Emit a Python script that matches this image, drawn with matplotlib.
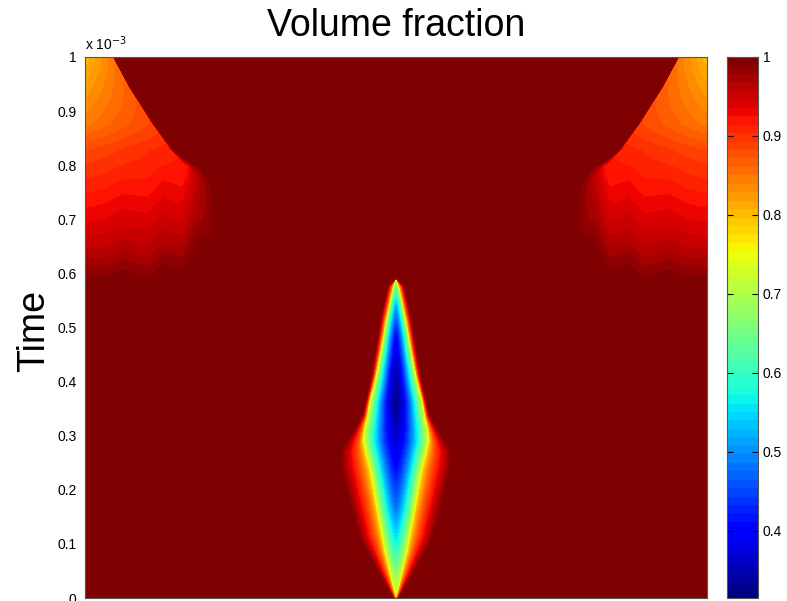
import numpy as np
import matplotlib
matplotlib.use("Agg")
import matplotlib.pyplot as plt

plt.rcParams['font.family'] = ['Liberation Sans', 'DejaVu Sans']

# grid: x across the domain (0..1), t in units of 1e-3 s
nx, nt = 622, 541
x = np.linspace(0.0, 1.0, nx)
t = np.linspace(0.0, 1.0, nt)
X, T = np.meshgrid(x, t)

# --- central bubble ---
dia_t = [0.0, 0.02, 0.083, 0.175, 0.237, 0.265, 0.29, 0.31, 0.336, 0.367, 0.403, 0.45, 0.514, 0.575, 0.59]
dia_hw_px = [0, 3, 11, 20, 26, 30, 33, 32, 29, 26, 21, 16, 10, 3, 0]   # half width of the 0.75 contour
halo_t = [0.0, 0.05, 0.113, 0.175, 0.24, 0.27, 0.305, 0.336, 0.367, 0.42, 0.514, 0.575, 0.59]
halo_px = [3, 19, 38, 47, 56, 56, 44, 34, 30, 24, 16, 9, 0]             # where the field is back to 1
core_t = [0.0, 0.05, 0.11, 0.17, 0.24, 0.29, 0.36, 0.42, 0.48, 0.54, 0.575, 0.59]
core_min = [0.74, 0.66, 0.56, 0.48, 0.41, 0.37, 0.325, 0.35, 0.40, 0.52, 0.65, 0.75]
edge_val = 0.75

# --- corner plumes (left one; the right one is its mirror) ---
pl_t = [0.575, 0.6, 0.643, 0.68, 0.71, 0.76, 0.797, 0.828, 0.876, 0.945, 1.0]
pl_w = [0.19, 0.205, 0.215, 0.232, 0.23, 0.218, 0.176, 0.142, 0.11, 0.071, 0.045]  # outer edge
pl_def = [0.0, 0.014, 0.042, 0.058, 0.07, 0.09, 0.105, 0.118, 0.153, 0.178, 0.2]  # 1 - value at x = 0
pl_soft = [0.45, 0.45, 0.42, 0.4, 0.38, 0.32, 0.08, 0.04, 0.025, 0.02, 0.02]
wave_x = [0.0, 0.03, 0.061, 0.085, 0.101, 0.126, 0.156, 0.182, 0.206, 0.24]
wave_dt = [0.0, 0.0, 0.012, 0.002, -0.004, 0.022, -0.004, 0.024, -0.004, 0.0]
wave_t = [0.0, 0.76, 0.82, 1.0]
wave_amp = [1.0, 1.0, 0.0, 0.0]

px = 1.0 / 622.0
field = np.ones_like(X)

# bubble
r = np.abs(X - 0.5)
hw = np.interp(T, dia_t, dia_hw_px) * px
ho = np.interp(T, halo_t, halo_px) * px
cmin = np.interp(T, core_t, core_min)
inside = T <= dia_t[-1]
s = r / np.maximum(hw, 1e-9)
v_core = cmin + (edge_val - cmin) * np.clip(s, 0, 1) ** 1.5
u = np.clip((r - hw) / np.maximum(ho - hw, 1e-9), 0, 1)
v_halo = edge_val + (1 - edge_val) * u ** 0.6
bubble = np.where(r < hw, v_core, v_halo)
field = np.where(inside, np.minimum(field, bubble), field)

# plumes
amp = np.interp(T, wave_t, wave_amp)
for xx in (X, 1.0 - X):
    te = T - amp * np.interp(xx, wave_x, wave_dt)
    w = np.interp(te, pl_t, pl_w)
    d0 = np.interp(te, pl_t, pl_def, left=0.0)
    e = np.interp(te, pl_t, pl_soft)
    sp = xx / w
    g = np.clip((1 - sp) / e, 0, 1)
    g = g * g * (3 - 2 * g)
    field = field - d0 * (1 - 0.25 * np.clip(sp, 0, 1)) * g

fig = plt.figure(figsize=(7.87, 6.01), dpi=100)
ax = fig.add_axes([85 / 787, 3 / 601, 622 / 787, 541 / 601])
cax = fig.add_axes([727 / 787, 3 / 601, 31 / 787, 541 / 601])

im = ax.imshow(field, origin='lower', extent=[0, 1, 0, 1e-3], aspect='auto',
               cmap=plt.get_cmap('jet', 64), vmin=0.315, vmax=1.0,
               interpolation='nearest')

yt = np.arange(0, 11) * 1e-4
ax.set_yticks(yt)
ax.set_yticklabels(['%g' % round(v * 1e3, 1) for v in yt], fontsize=10)
ax.set_ylim(0, 1e-3)
ax.set_xlim(0, 1)
ax.set_xticks([])
ax.tick_params(axis='y', length=0, pad=6)
for sp_ in ax.spines.values():
    sp_.set_color('#555555')
    sp_.set_linewidth(0.8)
ax.text(0.0, 1.008, r'x 10$^{-3}$', transform=ax.transAxes, fontsize=10,
        ha='left', va='bottom')
ax.set_title('Volume fraction', fontsize=27, pad=15)
ax.set_ylabel('Time', fontsize=27)
ax.yaxis.set_label_coords(-0.053, 0.493)

cb = fig.colorbar(im, cax=cax)
cb.set_ticks([0.4, 0.5, 0.6, 0.7, 0.8, 0.9, 1.0])
cb.set_ticklabels(['0.4', '0.5', '0.6', '0.7', '0.8', '0.9', '1'])
cb.ax.tick_params(labelsize=10, direction='in', length=4, left=True)
cb.outline.set_edgecolor('#555555')
cb.outline.set_linewidth(0.8)

fig.savefig('out.png', dpi=100)
